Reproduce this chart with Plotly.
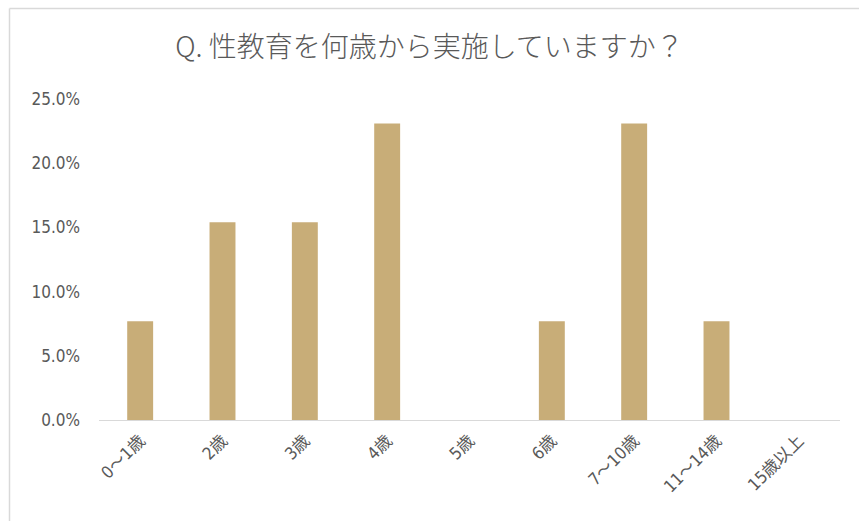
import plotly.graph_objects as go

categories = ["0～1歳", "2歳", "3歳", "4歳", "5歳", "6歳", "7～10歳", "11～14歳", "15歳以上"]
values = [0.077, 0.154, 0.154, 0.231, 0.0, 0.077, 0.231, 0.077, 0.0]
y_ticks = [0, 0.05, 0.10, 0.15, 0.20, 0.25]
y_tick_labels = ["0.0%", "5.0%", "10.0%", "15.0%", "20.0%", "25.0%"]
title_text = "Q. 性教育を何歳から実施していますか？"

W, H = 859, 521
ml, mr, mt, mb = 99, 19, 99, 101
pw = W - ml - mr
ph = H - mt - mb

def px_to_paper_x(px):
    return (px - ml) / pw

def px_to_paper_y(py):
    return (H - mb - py) / ph

font_family = "DejaVu Sans Condensed, Noto Sans CJK JP, sans-serif"
title_family = "Noto Sans CJK JP, Noto Sans, sans-serif"
grey = "#595959"

fig = go.Figure(go.Bar(
    x=categories, y=values,
    marker=dict(color="#C8AD78", line=dict(width=0)),
    hoverinfo="skip",
))

fig.update_layout(
    width=W, height=H,
    margin=dict(l=ml, r=mr, t=mt, b=mb),
    paper_bgcolor="white", plot_bgcolor="white",
    bargap=0.685,
    showlegend=False,
    title=dict(text=title_text, x=0.5, xanchor="center", y=1 - 47 / H, yanchor="middle",
               font=dict(family=title_family, size=28, color=grey, weight=300)),
    font=dict(family=font_family, color=grey),
    xaxis=dict(
        tickangle=-45, tickfont=dict(size=17, color=grey),
        showgrid=False, showline=True, linecolor="#d9d9d9", linewidth=1,
        ticks="", zeroline=False, ticklabelstandoff=3,
    ),
    yaxis=dict(
        range=[0, 0.25], tickvals=y_ticks, ticktext=y_tick_labels,
        tickfont=dict(size=17, color=grey), showgrid=False, zeroline=False,
        showline=False, ticks="", ticklabelstandoff=18,
    ),
    shapes=[
        dict(type="line", xref="paper", yref="paper",
             x0=px_to_paper_x(9.5), x1=px_to_paper_x(870), y0=px_to_paper_y(8.5), y1=px_to_paper_y(8.5),
             line=dict(color="#d9d9d9", width=1.5)),
        dict(type="line", xref="paper", yref="paper",
             x0=px_to_paper_x(9.5), x1=px_to_paper_x(9.5), y0=px_to_paper_y(8.5), y1=px_to_paper_y(530),
             line=dict(color="#d9d9d9", width=1.5)),
    ],
)

fig.write_html("out.html")
